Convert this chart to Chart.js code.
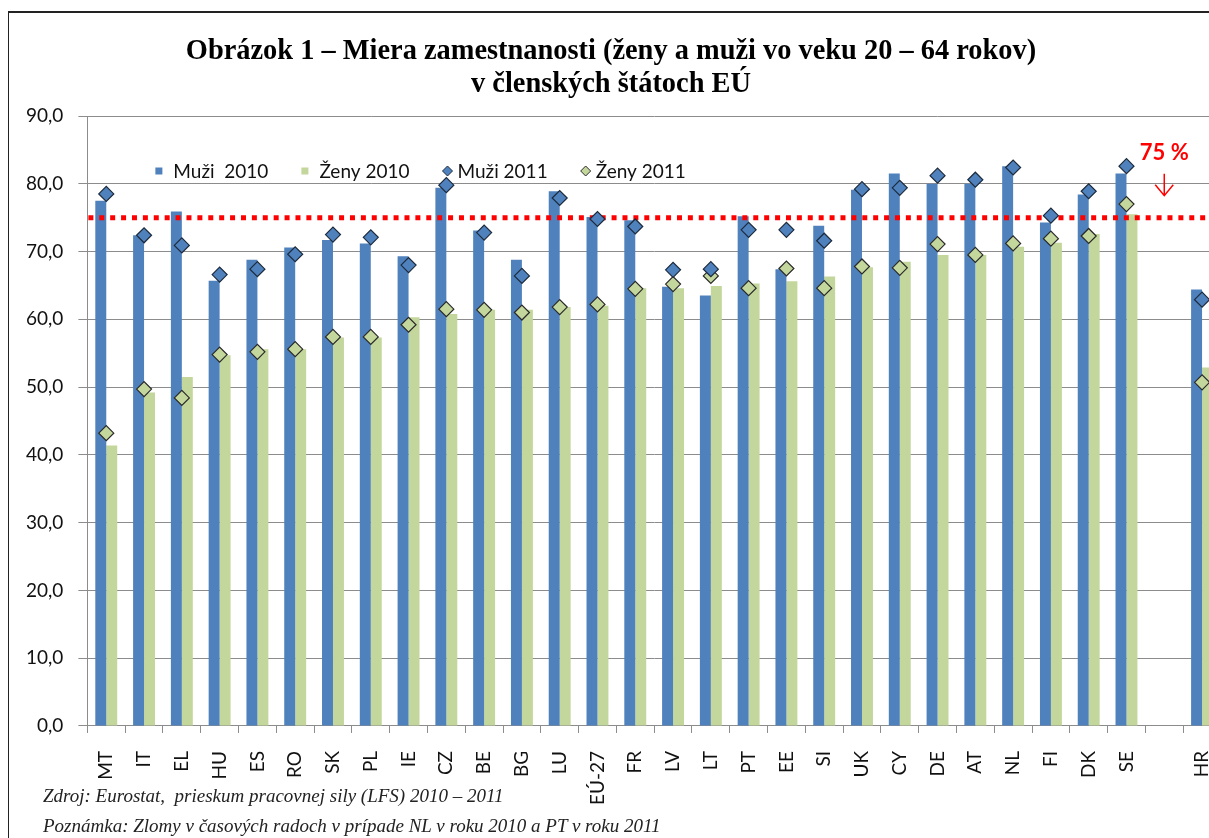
<!DOCTYPE html>
<html lang="sk">
<head>
<meta charset="utf-8">
<title>Miera zamestnanosti</title>
<script src="https://cdn.jsdelivr.net/npm/chart.js@4.4.1/dist/chart.umd.min.js"></script>
<style>
  html, body { margin: 0; padding: 0; background: #fff; overflow: hidden; }
  #wrap { position: relative; width: 1209px; height: 838px; overflow: hidden; }
  #box { position: absolute; left: 0; top: 0; width: 1243px; height: 838px; }
  #frame { position: absolute; left: 8px; top: 11px; right: -5px; bottom: -5px;
           border-top: 2px solid #222; border-left: 1px solid #222; pointer-events: none; }
  #title { position: absolute; left: 0; top: 33px; width: 1222px; text-align: center;
           font: bold 28.4px/33px "Liberation Serif", serif; color: #000; }
  .note { position: absolute; left: 43px; font: italic 19px "Liberation Serif", serif;
          color: #222; white-space: nowrap; }
</style>
</head>
<body>
<div id="wrap">
  <div id="box"><canvas id="graf"></canvas></div>
  <div id="frame"></div>
  <div id="title">Obrázok 1 – Miera zamestnanosti (ženy a muži vo veku 20 – 64 rokov)<br>v členských štátoch EÚ</div>
  <div class="note" style="top:785px">Zdroj: Eurostat,&nbsp; prieskum pracovnej sily (LFS) 2010 – 2011</div>
  <div class="note" style="top:815px">Poznámka: Zlomy v časových radoch v prípade NL v roku 2010 a PT v roku 2011</div>
</div>

<script>
"use strict"

// krajiny (prázdna medzera pred HR)
const countries = ["MT", "IT", "EL", "HU", "ES", "RO", "SK", "PL", "IE", "CZ", "BE", "BG", "LU", "EÚ-27",
    "FR", "LV", "LT", "PT", "EE", "SI", "UK", "CY", "DE", "AT", "NL", "FI", "DK", "SE", "", "HR"];

// stĺpce 2010
const men2010 = [77.5, 72.4, 75.9, 65.7, 68.8, 70.6, 71.7, 71.2, 69.3, 79.4, 73.1, 68.8, 78.9, 75.1,
    74.6, 64.8, 63.5, 75.2, 67.4, 73.8, 79.1, 81.5, 80.0, 80.0, 82.6, 74.3, 78.4, 81.5, null, 64.4];
const women2010 = [41.4, 49.2, 51.5, 54.7, 55.6, 55.6, 57.3, 57.3, 60.3, 60.8, 61.4, 61.4, 61.8, 62.0,
    64.6, 64.6, 64.9, 65.3, 65.6, 66.3, 67.7, 68.5, 69.5, 69.5, 70.7, 71.3, 72.6, 75.5, null, 52.9];

// kosoštvorce 2011
const men2011 = [78.5, 72.4, 70.9, 66.6, 67.4, 69.6, 72.5, 72.1, 68.0, 79.8, 72.8, 66.4, 77.9, 74.8,
    73.7, 67.3, 67.4, 73.2, 73.2, 71.6, 79.2, 79.4, 81.2, 80.6, 82.4, 75.3, 78.9, 82.6, null, 62.9];
const women2011 = [43.2, 49.7, 48.4, 54.8, 55.2, 55.6, 57.4, 57.4, 59.2, 61.5, 61.4, 61.0, 61.8, 62.2,
    64.5, 65.2, 66.4, 64.6, 67.5, 64.6, 67.8, 67.6, 71.1, 69.5, 71.2, 71.9, 72.3, 77.0, null, 50.7];

const seriesNames = ["Muži  2010", "Ženy 2010", "Muži 2011", "Ženy 2011"];
const target = 75; // cieľ 75 %
const yTicks = [0, 10, 20, 30, 40, 50, 60, 70, 80, 90];

const blue = "#4F81BD";
const green = "#C3D69B";
const tickFont = { family: "Lato", size: 19 };

// dotted 75 % line, custom legend and the "75 %" note
const extras = {
    id: "extras",
    afterDatasetDraw(chart, args) {
        if (args.index !== 0) return; // after the bars, before the diamonds
        const { ctx, chartArea, scales } = chart;
        const y = scales.y.getPixelForValue(target);
        ctx.save();
        ctx.strokeStyle = "#ff0000";
        ctx.lineWidth = 5;
        ctx.setLineDash([5, 5.9]);
        ctx.beginPath();
        ctx.moveTo(chartArea.left + 1, y);
        ctx.lineTo(chartArea.right, y);
        ctx.stroke();
        ctx.restore();
    },
    afterDraw(chart) {
        const { ctx, chartArea, scales } = chart;
        ctx.save();

        // legenda
        let x = chartArea.left + 68;
        const ly = chartArea.top + 55;
        ctx.font = "19px Lato";
        ctx.textBaseline = "middle";
        chart.data.datasets.forEach((ds, i) => {
            if (ds.type === "bar") {
                ctx.fillStyle = ds.backgroundColor;
                ctx.fillRect(x, ly - 3.5, 7, 7);
                x += 7 + 11;
            } else {
                ctx.fillStyle = ds.pointBackgroundColor;
                ctx.strokeStyle = ds.pointBorderColor;
                ctx.lineWidth = 1;
                ctx.beginPath();
                ctx.moveTo(x, ly);
                ctx.lineTo(x + 5, ly - 5);
                ctx.lineTo(x + 10, ly);
                ctx.lineTo(x + 5, ly + 5);
                ctx.closePath();
                ctx.fill();
                ctx.stroke();
                x += 10 + 5;
            }
            ctx.fillStyle = "#111";
            ctx.fillText(ds.label, x, ly + 1);
            x += ctx.measureText(ds.label).width + 33;
        });

        // 75 % a šípka nad prázdnou kategóriou
        const ax = scales.x.getPixelForValue(countries.indexOf(""));
        const ty = scales.y.getPixelForValue(target);
        ctx.fillStyle = "#ff0000";
        ctx.strokeStyle = "#ff0000";
        ctx.font = "bold 22px Lato";
        ctx.textAlign = "center";
        ctx.fillText("75 %", ax, ty - 65);
        ctx.lineWidth = 1.5;
        ctx.beginPath();
        ctx.moveTo(ax, ty - 44);
        ctx.lineTo(ax, ty - 22);
        ctx.moveTo(ax - 9, ty - 33);
        ctx.lineTo(ax, ty - 22);
        ctx.lineTo(ax + 9, ty - 33);
        ctx.stroke();
        ctx.restore();
    }
};

new Chart(document.getElementById("graf"), {
    type: "bar",
    data: {
        labels: countries,
        datasets: [
            { type: "bar", label: seriesNames[0], data: men2010, backgroundColor: blue,
              categoryPercentage: 0.58, barPercentage: 1.0, order: 1 },
            { type: "bar", label: seriesNames[1], data: women2010, backgroundColor: green,
              categoryPercentage: 0.58, barPercentage: 1.0, order: 1 },
            { type: "line", label: seriesNames[2], data: men2011, showLine: false,
              pointStyle: "rectRot", pointRadius: 7.5, pointBackgroundColor: blue,
              pointBorderColor: "#1d2b3c", pointBorderWidth: 1.2, order: 0 },
            { type: "line", label: seriesNames[3], data: women2011, showLine: false,
              pointStyle: "rectRot", pointRadius: 7.5, pointBackgroundColor: green,
              pointBorderColor: "#2a2a2a", pointBorderWidth: 1.2, order: 0 }
        ]
    },
    options: {
        responsive: true,
        maintainAspectRatio: false,
        animation: false,
        layout: { padding: { top: 116, left: 11, right: 2, bottom: 15 } },
        plugins: {
            legend: { display: false },
            tooltip: { enabled: false }
        },
        scales: {
            x: {
                grid: { drawOnChartArea: false, offset: true, tickLength: 7, color: "#8c8c8c" },
                border: { color: "#8c8c8c" },
                ticks: { autoSkip: false, minRotation: 90, maxRotation: 90, padding: 18,
                         font: tickFont, color: "#111" }
            },
            y: {
                min: yTicks[0],
                max: yTicks[yTicks.length - 1],
                afterBuildTicks: axis => { axis.ticks = yTicks.map(v => ({ value: v })); },
                grid: { color: "#8c8c8c", tickLength: 9 },
                border: { color: "#8c8c8c" },
                ticks: { padding: 15, font: tickFont, color: "#111",
                         callback: v => v.toFixed(1).replace(".", ",") }
            }
        }
    },
    plugins: [extras]
});
</script>
</body>
</html>
